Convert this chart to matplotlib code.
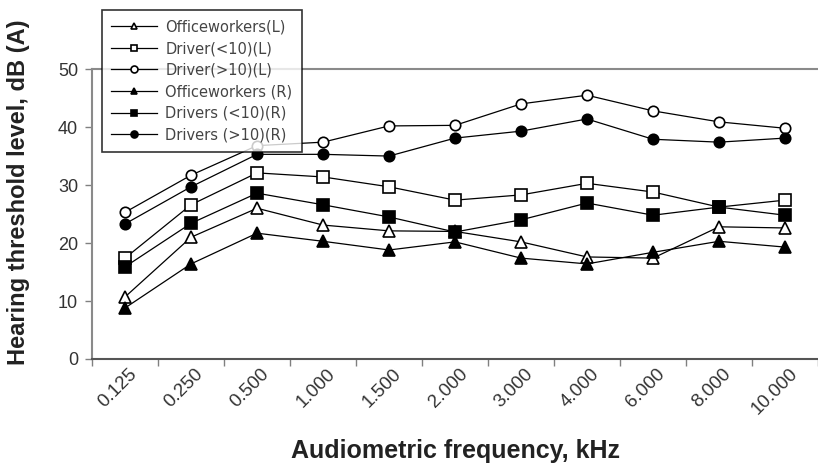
import numpy as np
import matplotlib.pyplot as plt
import matplotlib.transforms as mtransforms

plt.rcParams['font.family'] = ['Liberation Sans', 'DejaVu Sans']

freqs = ['0.125', '0.250', '0.500', '1.000', '1.500', '2.000',
         '3.000', '4.000', '6.000', '8.000', '10.000']

office_L = [10.7, 21.0, 26.0, 23.1, 22.1, 22.0, 20.2, 17.6, 17.4, 22.8, 22.6]
driver_lt10_L = [17.4, 26.6, 32.1, 31.4, 29.7, 27.4, 28.3, 30.3, 28.8, 26.2, 27.4]
driver_gt10_L = [25.3, 31.7, 36.8, 37.4, 40.2, 40.3, 44.0, 45.5, 42.8, 40.9, 39.8]
office_R = [8.8, 16.4, 21.7, 20.3, 18.8, 20.2, 17.4, 16.4, 18.4, 20.3, 19.3]
drivers_lt10_R = [15.9, 23.4, 28.6, 26.6, 24.5, 21.9, 24.0, 26.9, 24.8, 26.2, 24.8]
drivers_gt10_R = [23.3, 29.7, 35.3, 35.3, 35.0, 38.1, 39.3, 41.4, 37.9, 37.4, 38.1]

labels = ['Officeworkers(L)', 'Driver(<10)(L)', 'Driver(>10)(L)',
          'Officeworkers (R)', 'Drivers (<10)(R)', 'Drivers (>10)(R)']

fig = plt.figure(figsize=(8.18, 4.67), dpi=100)
ax = fig.add_axes([0.1125, 0.2313, 0.8875, 0.6207])

x = np.arange(len(freqs))
lw = 0.9
series = [
    (office_L, '^', 'white', 8),
    (driver_lt10_L, 's', 'white', 8),
    (driver_gt10_L, 'o', 'white', 7.5),
    (office_R, '^', 'black', 8),
    (drivers_lt10_R, 's', 'black', 8),
    (drivers_gt10_R, 'o', 'black', 7.5),
]
handles = []
for (vals, m, fc, ms), lab in zip(series, labels):
    h, = ax.plot(x, vals, color='black', lw=lw, marker=m, markersize=ms,
                 markerfacecolor=fc, markeredgecolor='black', markeredgewidth=1.2,
                 label=lab, zorder=3)
    handles.append(h)

ax.set_xlim(-0.5, len(freqs) - 0.5)
ax.set_ylim(0, 50)
ax.set_yticks(np.arange(0, 51, 10))
ax.tick_params(axis='y', direction='out', length=5, width=1, color='#808080',
               labelsize=13, labelcolor='#333333', pad=5)

# category boundaries get the ticks, centres get the labels
ax.set_xticks(np.arange(-0.5, len(freqs), 1.0))
ax.set_xticklabels([])
ax.tick_params(axis='x', which='major', direction='out', length=5, width=1, color='#808080')
ax.set_xticks(x, minor=True)
ax.set_xticklabels(freqs, minor=True, rotation=45, ha='right', va='center',
                   rotation_mode='anchor', fontsize=13.5, color='#333333')
ax.tick_params(axis='x', which='minor', length=0, pad=0)
offset = mtransforms.ScaledTranslation(7 / 72, -9 / 72, fig.dpi_scale_trans)
for lbl in ax.xaxis.get_minorticklabels():
    lbl.set_transform(lbl.get_transform() + offset)

for s in ['left', 'top']:
    ax.spines[s].set_color('#8a8a8a')
    ax.spines[s].set_linewidth(1.5)
ax.spines['bottom'].set_color('#555555')
ax.spines['bottom'].set_linewidth(1.5)
ax.spines['right'].set_visible(False)

ax.set_ylabel('Hearing threshold level, dB (A)', fontsize=17, fontweight='bold',
              color='#222222')
ax.yaxis.set_label_coords(-0.085, 0.575)
ax.set_xlabel('Audiometric frequency, kHz', fontsize=18, fontweight='bold',
              color='#222222')
ax.xaxis.set_label_coords(0.5, -0.275)

leg = ax.legend(handles=handles, loc='upper left', bbox_to_anchor=(0.1247, 0.9786),
                bbox_transform=fig.transFigure, borderaxespad=0,
                prop={'family': 'DejaVu Sans', 'size': 10.5},
                handlelength=3.1, labelspacing=0.45, fancybox=False,
                frameon=True, borderpad=0.65, handletextpad=0.6)
leg.get_frame().set_edgecolor('black')
leg.get_frame().set_linewidth(1.2)
leg.set_zorder(5)
for h in leg.legend_handles:
    h.set_markersize(5)
for t in leg.get_texts():
    t.set_color('#444444')

fig.savefig('out.png', dpi=100)
